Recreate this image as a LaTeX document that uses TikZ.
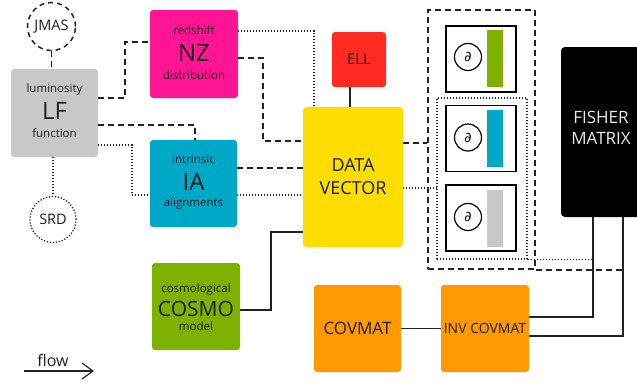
\documentclass[tikz,border=0pt]{standalone}
\usepackage{fontspec}
\setmainfont{Open Sans}
\newfontfamily\symfont{DejaVu Sans}
\usetikzlibrary{arrows.meta}
\definecolor{lfgray}{HTML}{C8C8C8}
\definecolor{nzpink}{HTML}{FF1493}
\definecolor{iacyan}{HTML}{00A8C8}
\definecolor{cosgreen}{HTML}{7FB100}
\definecolor{dvyellow}{HTML}{FFDD00}
\definecolor{ellred}{HTML}{FF2A22}
\definecolor{covorange}{HTML}{FF9900}
\definecolor{txt}{HTML}{1E1E1E}
\definecolor{lnc}{HTML}{222222}
\begin{document}
\begin{tikzpicture}[x=1pt,y=-1pt,
  blk/.style={rectangle, rounded corners=3pt, inner sep=0pt, text=txt},
  smalltxt/.style={anchor=base, inner sep=0pt, text=txt, font=\fontsize{11.5}{12}\selectfont},
  bigtxt/.style={anchor=base, inner sep=0pt, text=txt, font=\fontsize{24}{24}\selectfont},
  dashline/.style={draw=lnc, line width=1.7pt, dash pattern=on 6pt off 4pt},
  dotline/.style={draw=lnc, line width=1.3pt, dash pattern=on 1.2pt off 1.8pt},
  solidline/.style={draw=lnc, line width=1.5pt},
  dbox/.style={draw=black, line width=1.4pt, fill=white, minimum width=70pt, minimum height=66pt, inner sep=0pt},
  dcirc/.style={circle, draw=black, line width=1.2pt, minimum size=27pt, inner sep=0pt, font=\symfont\fontsize{14}{14}\selectfont},
  dbar/.style={rectangle, minimum width=16pt, minimum height=57pt, inner sep=0pt}
]
\useasboundingbox (0,0) rectangle (637,381);
\fill[white] (0,0) rectangle (637,381);

% main boxes
\node[blk, fill=lfgray, minimum width=87pt, minimum height=88pt] (LF) at (54.5,113) {};
\node[smalltxt] (LFa) at (54.5,92) {luminosity};
\node[bigtxt] (LFb) at (54.5,119) {LF};
\node[smalltxt] (LFc) at (54.5,137) {function};

\node[blk, fill=nzpink, minimum width=88pt, minimum height=88pt] (NZ) at (194,54) {};
\node[smalltxt] (NZa) at (194,34) {redshift};
\node[bigtxt] (NZb) at (194,61) {NZ};
\node[smalltxt] (NZc) at (194,79) {distribution};

\node[blk, fill=iacyan, minimum width=87pt, minimum height=87pt] (IA) at (193.5,183.5) {};
\node[smalltxt] (IAa) at (193.5,163) {intrinsic};
\node[bigtxt] (IAb) at (193.5,190) {IA};
\node[smalltxt] (IAc) at (193.5,206) {alignments};

\node[blk, fill=cosgreen, minimum width=88pt, minimum height=87pt] (COSMO) at (196,306.5) {};
\node[smalltxt] (COa) at (196,292) {cosmological};
\node[bigtxt, font=\fontsize{21}{21}\selectfont] (COb) at (196,316) {COSMO};
\node[smalltxt] (COc) at (196,330) {model};

\node[blk, fill=dvyellow, minimum width=100pt, minimum height=140pt, align=center, font=\fontsize{18}{23}\selectfont] (DV) at (353,177) {DATA\\VECTOR};

\node[blk, fill=ellred, minimum width=54pt, minimum height=55pt, font=\fontsize{15}{15}\selectfont] (ELL) at (359,59.5) {ELL};

\node[blk, fill=covorange, minimum width=87pt, minimum height=87pt, font=\fontsize{17}{17}\selectfont] (COV) at (357.5,328.5) {COVMAT};
\node[blk, fill=covorange, minimum width=88pt, minimum height=87pt, font=\fontsize{14}{14}\selectfont] (INV) at (485,328.5) {INV COVMAT};

\node[blk, fill=black, rounded corners=4pt, minimum width=90pt, minimum height=170pt] (FISHER) at (606,132) {};
\node[align=center, text=white!92!black, inner sep=0pt, font=\fontsize{17}{21}\selectfont] (FISHERt) at (601,128) {FISHER\\MATRIX};

% circles
\node[circle, draw=lnc, line width=1.5pt, dash pattern=on 5pt off 4pt, minimum size=48pt, inner sep=0pt, font=\fontsize{14.5}{14.5}\selectfont, text=txt] (JMAS) at (51.5,26.5) {JMAS};
\node[circle, draw=lnc, line width=1.3pt, dash pattern=on 1.2pt off 1.8pt, minimum size=46pt, inner sep=0pt, font=\fontsize{14.5}{14.5}\selectfont, text=txt] (SRD) at (53,219.5) {SRD};

% derivative group
\node[dashline, rectangle, minimum width=107pt, minimum height=259pt, inner sep=0pt] (OUT) at (481.5,139.5) {};
\node[dotline, rectangle, minimum width=90pt, minimum height=161pt, inner sep=0pt] (INN) at (482,178.5) {};

\node[dbox] (D1) at (481,59) {};
\node[dbox] (D2) at (481,138.5) {};
\node[dbox] (D3) at (481,218) {};
\node[dbar, fill=cosgreen] (B1) at (495,58.5) {};
\node[dbar, fill=iacyan] (B2) at (495,138.5) {};
\node[dbar, fill=lfgray] (B3) at (495,218) {};
\node[dcirc] (C1) at (468,57) {∂};
\node[dcirc] (C2) at (468,137.5) {∂};
\node[dcirc] (C3) at (468,217) {∂};

% connectors
\draw[dashline] (JMAS.south) -- (JMAS.south |- LF.north);
\draw[dotline] (LF.south -| SRD.north) -- (SRD.north);
\draw[dashline] (LF.east |- 0,98) -| (125,42) -- (NZ.west |- 0,42);
\draw[dashline] (LF.east |- 0,125) -| (195,140) -- (IA.north -| 195,0);
\draw[dotline] (LF.east |- 0,145) -| (132,195) -- (IA.west |- 0,195);
\draw[dotline] (NZ.east |- 0,31) -| (314,60) -- (DV.north -| 314,0);
\draw[dashline] (NZ.east |- 0,58) -| (263,141) -- (DV.west |- 0,141);
\draw[dashline] (IA.east |- 0,168) -- (DV.west |- 0,168);
\draw[dotline] (IA.east |- 0,195) -- (DV.west |- 0,195);
\draw[solidline] (COSMO.east |- 0,310) -| (271,232) -- (DV.west |- 0,232);
\draw[solidline] (ELL.south -| 350,0) -- (DV.north -| 350,0);
\draw[dashline] (DV.east |- 0,143) -- (OUT.west |- 0,143);
\draw[dotline] (DV.east |- 0,188) -- (INN.west |- 0,188);
\draw[dashline] (OUT.south east) -- (OUT.south -| 623,0);
\draw[dotline] (INN.south east) -- (INN.south -| 593,0);
\draw[solidline] (FISHER.south -| 593,0) |- (INV.east |- 0,317);
\draw[solidline] (FISHER.south -| 623,0) |- (INV.east |- 0,336);
\draw[solidline] (COV) -- (INV);

% flow
\coordinate (fs) at (24,371);
\coordinate (fe) at (94,371);
\node[anchor=base, inner sep=0pt, text=txt, font=\fontsize{16}{16}\selectfont] (flowtxt) at (53,366) {flow};
\draw[line width=1.4pt, draw=lnc, -{Straight Barb[length=11pt,width=16pt,line width=1.2pt]}] (fs) -- (fe);
\end{tikzpicture}
\end{document}
